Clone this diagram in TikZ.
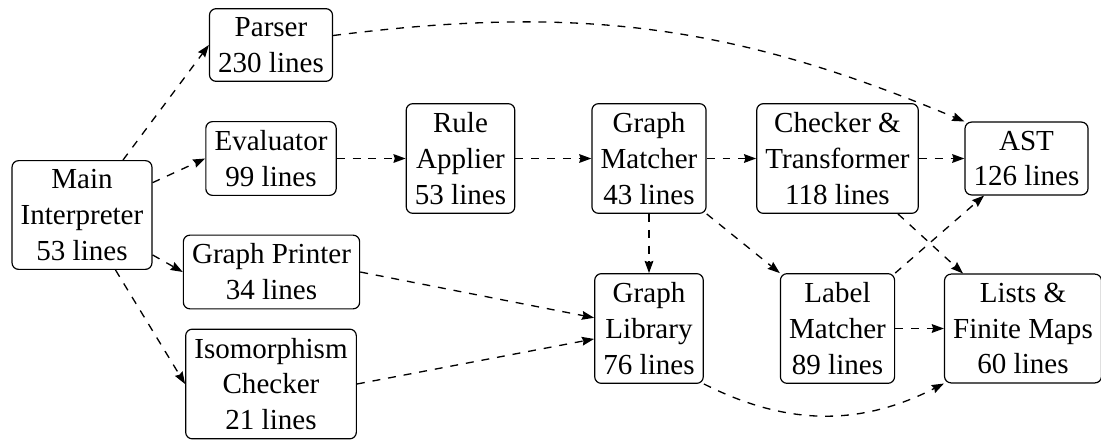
\documentclass[tikz,border=0pt]{standalone}
\usepackage{fontspec}
\setmainfont{Liberation Serif}
\usetikzlibrary{arrows.meta}
\begin{document}
\begin{tikzpicture}[x=0.3788pt,y=-0.3788pt,
  box/.style={draw,line width=0.45pt,rounded corners=2.5pt,align=center,inner sep=3.3pt,
    font=\fontsize{11}{13.6}\selectfont},
  dep/.style={draw,line width=0.5pt,dashed,-{Stealth[length=4.6pt,width=3.3pt,inset=0.5pt]}}]
\useasboundingbox (0,0) rectangle (1101,440);
\node[box] (main) at (82,215) {Main\\Interpreter\\53 lines};
\node[box] (parser) at (271,45) {Parser\\230 lines};
\node[box] (eval) at (271,158.5) {Evaluator\\99 lines};
\node[box] (gp) at (271.5,272) {Graph Printer\\34 lines};
\node[box] (iso) at (271,384) {Isomorphism\\Checker\\21 lines};
\node[box] (rule) at (460.5,158.5) {Rule\\Applier\\53 lines};
\node[box] (gm) at (649,158.5) {Graph\\Matcher\\43 lines};
\node[box] (ct) at (837.5,158.5) {Checker \&\\Transformer\\118 lines};
\node[box] (ast) at (1026.5,158.5) {AST\\126 lines};
\node[box] (gl) at (649,328.5) {Graph\\Library\\76 lines};
\node[box] (lm) at (837.5,328.5) {Label\\Matcher\\89 lines};
\node[box] (lists) at (1023,328.5) {Lists \&\\Finite Maps\\60 lines};

\draw[dep] (main) -- (parser.west);
\draw[dep] (main) -- (eval.west);
\draw[dep] (main) -- (gp.west);
\draw[dep] (main) -- (iso.west);
\draw[dep] (eval) -- (rule);
\draw[dep] (rule) -- (gm);
\draw[dep] (gm) -- (ct);
\draw[dep] (ct) -- (ast);
\draw[dep] (gm) -- (gl);
\draw[dep] (gm.south east) -- (lm.north west);
\draw[dep] (ct) -- (lists);
\draw[dep] (lm.north east) -- (ast);
\draw[dep] (lm) -- (lists);
\draw[dep] (gp.east) -- (gl);
\draw[dep] (iso.east) -- (gl);
\draw[dep] (gl.south east) to[bend right=27] (lists.south west);
\draw[dep] (parser) to[bend left=15] (ast.north west);
\end{tikzpicture}
\end{document}
